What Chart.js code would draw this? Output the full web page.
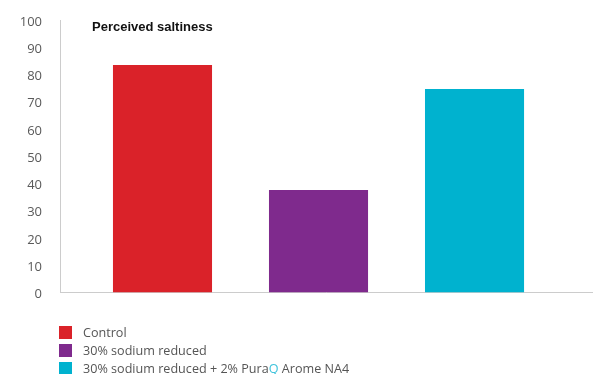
<!DOCTYPE html>
<html>
<head>
<meta charset="utf-8">
<script src="https://cdn.jsdelivr.net/npm/chart.js@4"></script>
<style>
  html, body { margin: 0; padding: 0; background: #fff; }
  #wrap { position: relative; width: 593px; height: 374px; overflow: hidden; }
  #legend { position: absolute; left: 59px; top: 323.5px; font-family: "Open Sans", sans-serif; font-size: 12.6px; color: #555; }
  #legend .row { height: 18px; display: flex; align-items: center; white-space: nowrap; }
  #legend .box { width: 13px; height: 13px; margin-right: 11px; flex: none; }
</style>
</head>
<body>
<div id="wrap">
  <canvas id="chart" width="593" height="374"></canvas>
  <div id="legend"></div>
</div>
<script>
// Sensory panel result: perceived saltiness score per recipe
const categories = ['Control', '30% sodium reduced', '30% sodium reduced + 2% PuraQ Arome NA4'];
const saltiness = [83.5, 37.6, 74.7];
const barColors = ['#DA2229', '#7F2A8D', '#00B2CF'];
const yTicks = [0, 10, 20, 30, 40, 50, 60, 70, 80, 90, 100];
const chartTitle = 'Perceived saltiness';

// Legend below the plot, one row per recipe; the "Q" of PuraQ is set in brand cyan
const legendEl = document.getElementById('legend');
categories.forEach((name, i) => {
  const row = document.createElement('div');
  row.className = 'row';
  const box = document.createElement('span');
  box.className = 'box';
  box.style.background = barColors[i];
  const label = document.createElement('span');
  const parts = name.split('PuraQ');
  label.appendChild(document.createTextNode(parts[0]));
  if (parts.length > 1) {
    label.appendChild(document.createTextNode('Pura'));
    const q = document.createElement('span');
    q.style.color = '#3FC3DC';
    q.textContent = 'Q';
    label.appendChild(q);
    label.appendChild(document.createTextNode(parts[1]));
  }
  row.appendChild(box);
  row.appendChild(label);
  legendEl.appendChild(row);
});

// Chart title drawn inside the plot area, near its top-left corner
const innerTitle = {
  id: 'innerTitle',
  afterDraw(chart) {
    const { ctx, chartArea } = chart;
    ctx.save();
    ctx.font = 'bold 13px "Liberation Sans", Arial, sans-serif';
    ctx.fillStyle = '#111';
    ctx.textBaseline = 'alphabetic';
    ctx.textAlign = 'left';
    ctx.fillText(chartTitle, chartArea.left + 32, chartArea.top + 10.5);
    ctx.restore();
  }
};

new Chart(document.getElementById('chart'), {
  type: 'bar',
  data: {
    datasets: [{
      data: saltiness.map((v, i) => ({ x: i, y: v })),
      backgroundColor: barColors,
      borderWidth: 0,
      categoryPercentage: 1,
      barPercentage: 0.635
    }]
  },
  options: {
    responsive: false,
    animation: false,
    events: [],
    layout: { padding: { top: 20, right: 1, bottom: 81.5, left: 0 } },
    plugins: {
      legend: { display: false },
      tooltip: { enabled: false }
    },
    scales: {
      x: {
        type: 'linear',
        offset: false,
        min: -0.657,
        max: 2.753,
        // one (hidden) tick per recipe so the bar width follows the recipe spacing
        afterBuildTicks(scale) { scale.ticks = categories.map((c, i) => ({ value: i })); },
        grid: { display: false, drawTicks: false },
        border: { display: true, color: '#CCCCCC', width: 1 },
        ticks: { display: false }
      },
      y: {
        min: 0,
        max: 100,
        afterBuildTicks(scale) { scale.ticks = yTicks.map(v => ({ value: v })); },
        afterFit(scale) { scale.width = 60; },
        grid: { display: false, drawTicks: true, tickLength: 18 },
        border: { display: true, color: '#CCCCCC', width: 1 },
        ticks: {
          padding: 0,
          labelOffset: 2,
          color: '#5A5A5A',
          font: { family: '"Open Sans", sans-serif', size: 13 }
        }
      }
    }
  },
  plugins: [innerTitle]
});
</script>
</body>
</html>
